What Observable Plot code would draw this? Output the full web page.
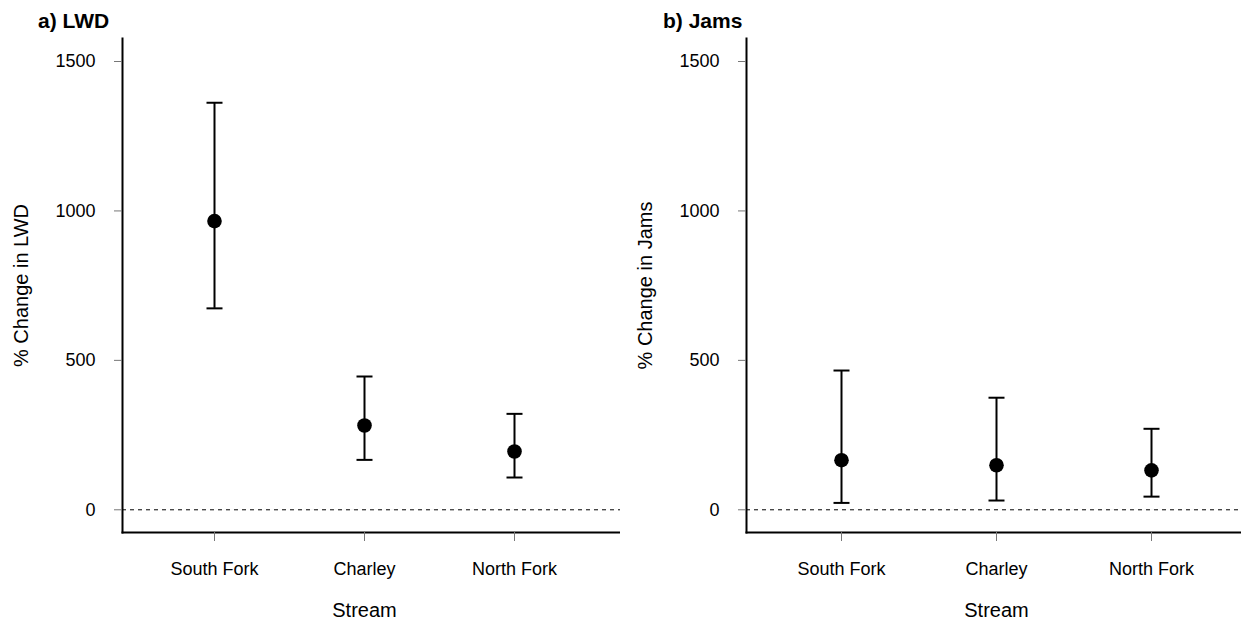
<!DOCTYPE html>
<html>
<head>
<meta charset="utf-8">
<script src="https://cdn.jsdelivr.net/npm/d3@7"></script>
<script src="https://cdn.jsdelivr.net/npm/@observablehq/plot@0.6"></script>
<style>
  html, body { margin: 0; padding: 0; background: #fff; }
  #wrap { position: relative; width: 1241px; height: 622px; overflow: hidden; font-family: "Liberation Sans", Arial, sans-serif; }
  .panel { position: absolute; top: 0; }
  .ptitle { position: absolute; font-weight: bold; font-size: 21px; color: #000; white-space: nowrap; }
</style>
</head>
<body>
<div id="wrap"></div>
<script>
const streams = ["South Fork", "Charley", "North Fork"];
const lwdMean  = [966, 282, 195];
const lwdLower = [674, 167, 108];
const lwdUpper = [1362, 446, 321];
const jamsMean  = [166, 149, 132];
const jamsLower = [23, 31, 44];
const jamsUpper = [466, 375, 271];
const yTicks = [0, 500, 1000, 1500];
const panelTitles = ["a) LWD", "b) Jams"];
const yLabels = ["% Change in LWD", "% Change in Jams"];
const xLabel = "Stream";

const FONT = '"Liberation Sans", Arial, sans-serif';

// horizontal cap symbol for error bars
const capSymbol = {draw(context) { context.moveTo(-8, 0); context.lineTo(8, 0); }};

function makePanel({mean, lower, upper, yLabel, width, marginLeft, padding, align}) {
  const data = streams.map((s, i) => ({stream: s, mean: mean[i], lower: lower[i], upper: upper[i]}));
  return Plot.plot({
    width, height: 622,
    marginLeft, marginRight: 0, marginTop: 38, marginBottom: 90,
    style: {fontFamily: FONT, fontSize: "18px", background: "white", overflow: "visible"},
    x: {type: "point", domain: streams, padding, align},
    y: {domain: [-76, 1577]},
    marks: [
      Plot.ruleY([0], {stroke: "black", strokeWidth: 1, strokeDasharray: "4,4"}),
      Plot.frame({anchor: "left", stroke: "black", strokeWidth: 2}),
      Plot.frame({anchor: "bottom", stroke: "black", strokeWidth: 2}),
      Plot.axisY({ticks: yTicks, tickSize: 8, tickPadding: 19, label: null, stroke: "#777", fill: "black", fontSize: 18, tickFormat: d => String(d)}),
      Plot.axisX({tickSize: 9, tickPadding: 21, label: null, stroke: "#777", fill: "black", fontSize: 18}),
      Plot.ruleX(data, {x: "stream", y1: "lower", y2: "upper", stroke: "black", strokeWidth: 2}),
      Plot.dot(data, {x: "stream", y: "upper", symbol: capSymbol, fill: "none", stroke: "black", strokeWidth: 2}),
      Plot.dot(data, {x: "stream", y: "lower", symbol: capSymbol, fill: "none", stroke: "black", strokeWidth: 2}),
      Plot.dot(data, {x: "stream", y: "mean", r: 7.3, fill: "black", stroke: "none"}),
      Plot.text([yLabel], {text: d => d, frameAnchor: "left", rotate: -90, dx: -101, fontSize: 20, fill: "black", textAnchor: "middle"}),
      Plot.text([xLabel], {text: d => d, x: () => streams[1], frameAnchor: "bottom", dy: 84, fontSize: 20, fill: "black", textAnchor: "middle"})
    ]
  });
}

const wrap = document.getElementById("wrap");

const left = makePanel({mean: lwdMean, lower: lwdLower, upper: lwdUpper, yLabel: yLabels[0], width: 620, marginLeft: 122, padding: 0.656, align: 0.463});
left.classList.add("panel");
left.style.left = "0px";
wrap.appendChild(left);

const right = makePanel({mean: jamsMean, lower: jamsLower, upper: jamsUpper, yLabel: yLabels[1], width: 621, marginLeft: 126, padding: 0.592, align: 0.515});
right.classList.add("panel");
right.style.left = "620px";
wrap.appendChild(right);

[[panelTitles[0], 38], [panelTitles[1], 663]].forEach(([t, x]) => {
  const d = document.createElement("div");
  d.className = "ptitle";
  d.textContent = t;
  d.style.left = x + "px";
  d.style.top = "9px";
  wrap.appendChild(d);
});
</script>
</body>
</html>
